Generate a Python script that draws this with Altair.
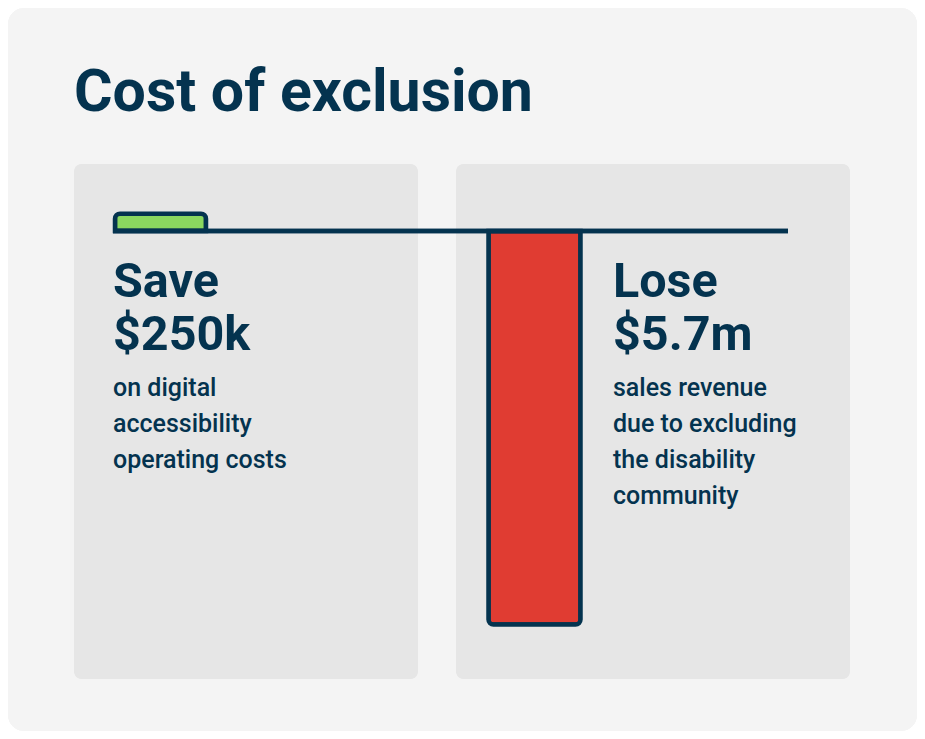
import altair as alt
import pandas as pd

# ---- data ----
categories = ["Save", "Lose"]
values_m = [0.25, -5.7]          # millions of dollars
title_text = "Cost of exclusion"
save_head = ["Save", "$250k"]
save_body = ["on digital", "accessibility", "operating costs"]
lose_head = ["Lose", "$5.7m"]
lose_body = ["sales revenue", "due to excluding", "the disability", "community"]

NAVY = "#04334f"
GREEN = "#8ad85f"
RED = "#e03c32"
PANEL = "#e6e6e6"
CARD = "#f4f4f4"
FONT = "Roboto"

W, H = 909, 723

df = pd.DataFrame({"label": categories, "value": values_m})

yscale = alt.Scale(domain=[min(values_m), 0], range=[616.5, 223], nice=False, zero=False)
xscale = alt.Scale(type="point", domain=categories, range=[152.5, 526.5], padding=0)
cscale = alt.Scale(domain=categories, range=[GREEN, RED])

base = alt.Chart(df)

card = base.mark_rect(fill=CARD, cornerRadius=16).encode(
    x=alt.value(0), x2=alt.value(W), y=alt.value(0), y2=alt.value(H)
)
panel_l = base.mark_rect(fill=PANEL, cornerRadius=8).encode(
    x=alt.value(66), x2=alt.value(410), y=alt.value(156), y2=alt.value(671)
)
panel_r = base.mark_rect(fill=PANEL, cornerRadius=8).encode(
    x=alt.value(448), x2=alt.value(842), y=alt.value(156), y2=alt.value(671)
)

enc = dict(
    x=alt.X("label:N", scale=xscale, axis=None),
    y=alt.Y("value:Q", scale=yscale, axis=None),
    color=alt.Color("label:N", scale=cscale, legend=None),
)
bar_pos = base.transform_filter("datum.value >= 0").mark_bar(
    width=91, stroke=NAVY, strokeWidth=4.5,
    cornerRadiusTopLeft=5, cornerRadiusTopRight=5, opacity=1
).encode(**enc)
bar_neg = base.transform_filter("datum.value < 0").mark_bar(
    width=92, stroke=NAVY, strokeWidth=4.5,
    cornerRadiusBottomLeft=5, cornerRadiusBottomRight=5, opacity=1
).encode(**enc)

zero_line = base.mark_rule(color=NAVY, strokeWidth=4.5).encode(
    x=alt.value(105), x2=alt.value(780),
    y=alt.Y(datum=0, type="quantitative", scale=yscale, axis=None),
)

def txt(text, x, y, size, weight, line_height=None):
    kw = dict(text=text, font=FONT, fontSize=size, fontWeight=weight, color=NAVY,
              align="left", baseline="alphabetic")
    if line_height:
        kw["lineHeight"] = line_height
    return alt.Chart(pd.DataFrame({"a": [0]})).mark_text(**kw).encode(
        x=alt.value(x), y=alt.value(y)
    )

title = txt(title_text, 66, 103, 59, "bold")
t_save_h = txt(save_head, 105, 288.7, 48.5, "bold", 53.3)
t_save_b = txt(save_body, 105, 387.7, 25, 500, 36)
t_lose_h = txt(lose_head, 605, 288.7, 48.5, "bold", 53.3)
t_lose_b = txt(lose_body, 605, 387.7, 25, 500, 36)

chart = alt.layer(
    card, panel_l, panel_r, bar_pos, bar_neg, zero_line,
    title, t_save_h, t_save_b, t_lose_h, t_lose_b
).properties(
    width=W, height=H, padding=0, autosize=alt.AutoSizeParams(type="none"),
    background="white"
).configure_view(stroke=None)

chart.save("out.html", embed_options={"renderer": "svg", "actions": False})
